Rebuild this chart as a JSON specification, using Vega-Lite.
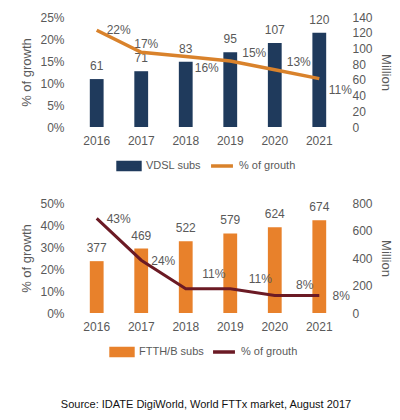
{
  "$schema": "https://vega.github.io/schema/vega-lite/v6.json",
  "padding": {"left": 20, "top": 11, "right": 5, "bottom": 5},
  "title": {
    "text": "Source: IDATE DigiWorld, World FTTx market, August 2017",
    "orient": "bottom",
    "anchor": "middle",
    "fontSize": 11,
    "fontWeight": "normal",
    "color": "#111111",
    "offset": 36
  },
  "spacing": 20,
  "vconcat": [
    {
      "width": 272,
      "height": 110,
      "data": {"values": [
        {"year": "2016", "subs": 61, "growth": 0.22},
        {"year": "2017", "subs": 71, "growth": 0.17},
        {"year": "2018", "subs": 83, "growth": 0.16},
        {"year": "2019", "subs": 95, "growth": 0.15},
        {"year": "2020", "subs": 107, "growth": 0.13},
        {"year": "2021", "subs": 120, "growth": 0.11}
      ]},
      "encoding": {
        "x": {"field": "year", "type": "ordinal", "title": null,
              "scale": {"paddingInner": 0.69, "paddingOuter": 0.4},
              "axis": {"labelAngle": 0, "labelPadding": 8}}
      },
      "layer": [
        {
          "encoding": {
            "y": {"field": "subs", "type": "quantitative",
                  "scale": {"domain": [0, 140]},
                  "axis": {"orient": "right", "title": "Million", "values": [0, 20, 40, 60, 80, 100, 120, 140], "grid": false}}
          },
          "layer": [
            {
              "mark": {"type": "bar"},
              "encoding": {
                "color": {"datum": "VDSL subs", "type": "nominal",
                          "scale": {"domain": ["VDSL subs", "% of grouth"], "range": ["#1f3a5c", "#d9822b"]},
                          "legend": {
                            "orient": "none", "legendX": 44, "legendY": 136,
                            "direction": "horizontal", "title": null, "gridAlign": "none",
                            "symbolSize": 480, "columnPadding": 2, "labelFontSize": 11,
                            "encode": {"symbols": {"update": {
                              "shape": {"signal": "datum.value == '% of grouth' ? 'stroke' : 'M-1,-0.32H1V0.32H-1Z'"},
                              "fill": {"signal": "datum.value == '% of grouth' ? 'transparent' : '#1f3a5c'"},
                              "stroke": {"signal": "datum.value == '% of grouth' ? '#d9822b' : 'transparent'"},
                              "strokeWidth": {"value": 3.5},
                              "opacity": {"value": 1}
                            }}}
                          }}
              }
            },
            {
              "mark": {"type": "text", "baseline": "bottom", "dy": -6, "fontSize": 12, "color": "#595959"},
              "encoding": {"text": {"field": "subs", "type": "quantitative"}}
            }
          ]
        },
        {
          "encoding": {
            "y": {"field": "growth", "type": "quantitative",
                  "scale": {"domain": [0, 0.25]},
                  "axis": {"orient": "left", "title": "% of growth", "format": ".0%", "values": [0, 0.05, 0.1, 0.15, 0.2, 0.25]}}
          },
          "layer": [
            {
              "mark": {"type": "line", "strokeWidth": 3.5},
              "encoding": {"color": {"datum": "% of grouth", "type": "nominal"}}
            },
            {
              "transform": [{"filter": "datum.year == '2016'"}],
              "mark": {"type": "text", "dx": 22, "dy": 0, "fontSize": 12, "color": "#595959"},
              "encoding": {"text": {"field": "growth", "type": "quantitative", "format": ".0%"}}
            },
            {
              "transform": [{"filter": "datum.year == '2017'"}],
              "mark": {"type": "text", "dx": 5, "dy": -8, "fontSize": 12, "color": "#595959"},
              "encoding": {"text": {"field": "growth", "type": "quantitative", "format": ".0%"}}
            },
            {
              "transform": [{"filter": "datum.year == '2019' || datum.year == '2020'"}],
              "mark": {"type": "text", "dx": 24, "dy": -8, "fontSize": 12, "color": "#595959"},
              "encoding": {"text": {"field": "growth", "type": "quantitative", "format": ".0%"}}
            },
            {
              "transform": [{"filter": "datum.year == '2018' || datum.year == '2021'"}],
              "mark": {"type": "text", "dx": 21, "dy": 11, "fontSize": 12, "color": "#595959"},
              "encoding": {"text": {"field": "growth", "type": "quantitative", "format": ".0%"}}
            }
          ]
        }
      ],
      "resolve": {"scale": {"y": "independent"}}
    },
    {
      "width": 272,
      "height": 110,
      "data": {"values": [
        {"year": "2016", "subs": 377, "growth": 0.43},
        {"year": "2017", "subs": 469, "growth": 0.24},
        {"year": "2018", "subs": 522, "growth": 0.11},
        {"year": "2019", "subs": 579, "growth": 0.11},
        {"year": "2020", "subs": 624, "growth": 0.08},
        {"year": "2021", "subs": 674, "growth": 0.08}
      ]},
      "encoding": {
        "x": {"field": "year", "type": "ordinal", "title": null,
              "scale": {"paddingInner": 0.69, "paddingOuter": 0.4},
              "axis": {"labelAngle": 0, "labelPadding": 8}}
      },
      "layer": [
        {
          "encoding": {
            "y": {"field": "subs", "type": "quantitative",
                  "scale": {"domain": [0, 800]},
                  "axis": {"orient": "right", "title": "Million", "values": [0, 200, 400, 600, 800], "grid": false}}
          },
          "layer": [
            {
              "mark": {"type": "bar"},
              "encoding": {
                "color": {"datum": "FTTH/B subs", "type": "nominal",
                          "scale": {"domain": ["FTTH/B subs", "% of grouth"], "range": ["#e8812b", "#6b1a24"]},
                          "legend": {
                            "orient": "none", "legendX": 37, "legendY": 136,
                            "direction": "horizontal", "title": null, "gridAlign": "none",
                            "symbolSize": 480, "columnPadding": 2, "labelFontSize": 11,
                            "encode": {"symbols": {"update": {
                              "shape": {"signal": "datum.value == '% of grouth' ? 'stroke' : 'M-1,-0.32H1V0.32H-1Z'"},
                              "fill": {"signal": "datum.value == '% of grouth' ? 'transparent' : '#e8812b'"},
                              "stroke": {"signal": "datum.value == '% of grouth' ? '#6b1a24' : 'transparent'"},
                              "strokeWidth": {"value": 3.5},
                              "opacity": {"value": 1}
                            }}}
                          }}
              }
            },
            {
              "mark": {"type": "text", "baseline": "bottom", "dy": -6, "fontSize": 12, "color": "#595959"},
              "encoding": {"text": {"field": "subs", "type": "quantitative"}}
            }
          ]
        },
        {
          "encoding": {
            "y": {"field": "growth", "type": "quantitative",
                  "scale": {"domain": [0, 0.5]},
                  "axis": {"orient": "left", "title": "% of growth", "format": ".0%", "values": [0, 0.1, 0.2, 0.3, 0.4, 0.5]}}
          },
          "layer": [
            {
              "mark": {"type": "line", "strokeWidth": 3},
              "encoding": {"color": {"datum": "% of grouth", "type": "nominal"}}
            },
            {
              "transform": [{"filter": "datum.year == '2016' || datum.year == '2017' || datum.year == '2021'"}],
              "mark": {"type": "text", "dx": 22, "dy": 1, "fontSize": 12, "color": "#595959"},
              "encoding": {"text": {"field": "growth", "type": "quantitative", "format": ".0%"}}
            },
            {
              "transform": [{"filter": "datum.year == '2018'"}],
              "mark": {"type": "text", "dx": 28, "dy": -15, "fontSize": 12, "color": "#595959"},
              "encoding": {"text": {"field": "growth", "type": "quantitative", "format": ".0%"}}
            },
            {
              "transform": [{"filter": "datum.year == '2019' || datum.year == '2020'"}],
              "mark": {"type": "text", "dx": 30, "dy": -10, "fontSize": 12, "color": "#595959"},
              "encoding": {"text": {"field": "growth", "type": "quantitative", "format": ".0%"}}
            }
          ]
        }
      ],
      "resolve": {"scale": {"y": "independent"}}
    }
  ],
  "resolve": {"scale": {"color": "independent"}, "legend": {"color": "independent"}},
  "config": {
    "font": "Liberation Sans",
    "view": {"stroke": null},
    "axis": {
      "labelFontSize": 12,
      "labelColor": "#595959",
      "titleColor": "#595959",
      "titleFontSize": 13,
      "titleFontWeight": "normal",
      "ticks": false,
      "domain": false,
      "gridColor": "#d9d9d9",
      "labelPadding": 8,
      "titlePadding": 6
    },
    "legend": {
      "labelFontSize": 12,
      "labelColor": "#595959"
    }
  }
}
